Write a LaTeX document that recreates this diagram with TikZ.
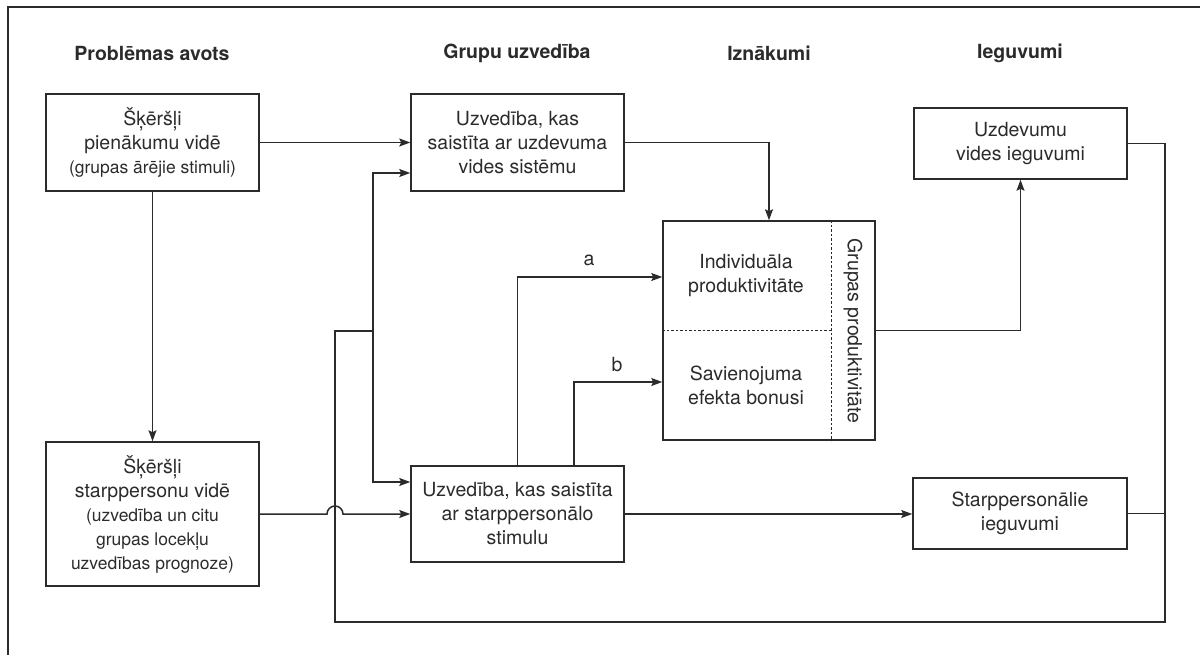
\documentclass[tikz,border=0pt]{standalone}
\usepackage{fontspec}
\setmainfont{TeX Gyre Heros}
\usetikzlibrary{arrows.meta}
\definecolor{ink}{HTML}{2B2B2B}
\newcommand{\subtxt}{\fontsize{17.5}{24}\selectfont}
\tikzset{
  box/.style={draw=ink, line width=1.5pt, align=center, text=ink, inner sep=0pt, font=\fontsize{19.5}{24}\selectfont},
  head/.style={font=\bfseries\fontsize{19.5}{24}\selectfont, text=ink},
  lbl/.style={font=\fontsize{19.5}{24}\selectfont, text=ink, align=center},
  conn/.style={draw=ink, line width=1.5pt},
  arr/.style={conn, -{Stealth[length=11pt,width=8pt,inset=2pt]}},
  cut/.style={draw=ink, line width=1.2pt, dash pattern=on 2.5pt off 2pt}
}
\begin{document}
\begin{tikzpicture}[x=1pt,y=-1pt]
            \useasboundingbox (0,0) rectangle (1200,655);
            \draw[conn] (1200,7) -- (8,7) -- (8,655);
            \node[head] (hsource) at (152,53) {Problēmas avots};
            \node[head] (hbehave) at (517,53) {Grupu uzvedība};
            \node[head] (hresult) at (769,53) {Iznākumi};
            \node[head] (hgain) at (1020,53) {Ieguvumi};
            \node[box, minimum width=213pt, minimum height=97pt] (probtask) at (152.5,142.5) {Šķēršļi\\pienākumu vidē\\{\subtxt (grupas ārējie stimuli)}};
            \node[box, minimum width=213pt, minimum height=144pt] (probinter) at (152.5,514) {Šķēršļi\\starppersonu vidē\\{\subtxt (uzvedība un citu}\\{\subtxt grupas locekļu}\\{\subtxt uzvedības prognoze)}};
            \node[box, minimum width=213pt, minimum height=97pt] (behtask) at (517.5,142.5) {Uzvedība, kas\\saistīta ar uzdevuma\\vides sistēmu};
            \node[box, minimum width=213pt, minimum height=96pt] (behinter) at (517.5,514) {Uzvedība, kas saistīta\\ar starppersonālo\\stimulu};
            \node[box, minimum width=212pt, minimum height=219pt] (outcome) at (769,330.5) {};
            \node[lbl] (indiv) at (746,276) {Individuāla\\produktivitāte};
            \node[lbl] (synergy) at (746,385) {Savienojuma\\efekta bonusi};
            \node[lbl, rotate=-90] (groupprod) at (853,331) {Grupas produktivitāte};
            \node[box, minimum width=213pt, minimum height=71pt] (gaintask) at (1020.5,143.5) {Uzdevumu\\vides ieguvumi};
            \node[box, minimum width=214pt, minimum height=71pt] (gaininter) at (1020,513.5) {Starppersonālie\\ieguvumi};
            % dashed split of the outcome box
            \coordinate (divtop) at ([xshift=-44pt]outcome.north east);
            \coordinate (divbot) at ([xshift=-44pt]outcome.south east);
            \draw[cut] (divtop) -- (divbot);
            \draw[cut] (outcome.west) -- (outcome.west -| divtop);
            % feedback loop
            \coordinate (fbright) at (1165,622);
            \coordinate (fbleft) at (335,622);
            \coordinate (fbjoin) at (335,331);
            \coordinate (split) at (373,331);
            \coordinate (hop) at (probinter.east -| fbjoin);
            \draw[conn] (gaintask.east) -| (fbright) -- (fbleft) -- (fbjoin) -- (split);
            \draw[conn] (gaininter.east) -- (gaininter.east -| fbright);
            \draw[arr] (split) |- ([yshift=-30.5pt]behtask.west);
            \draw[arr] (split) |- ([yshift=32pt]behinter.west);
            % main flow
            \draw[arr] (probtask) -- (behtask);
            \draw[arr] (probtask) -- (probinter);
            \draw[arr] (probinter.east) -- ([xshift=-8pt]hop) arc[start angle=180, end angle=0, radius=8pt] -- (behinter.west);
            \draw[arr] (behtask.east) -| (outcome.north);
            \draw[arr] (behinter.north) |- ([yshift=53.5pt]outcome.west);
            \draw[arr] ([xshift=56.5pt]behinter.north) |- ([yshift=-51.5pt]outcome.west);
            \node[lbl] (labela) at (589,260) {a};
            \node[lbl] (labelb) at (617,365) {b};
            \draw[arr] (outcome.east) -| (gaintask.south);
            \draw[arr] (behinter.east) -- (behinter.east -| gaininter.west);
\end{tikzpicture}
\end{document}
